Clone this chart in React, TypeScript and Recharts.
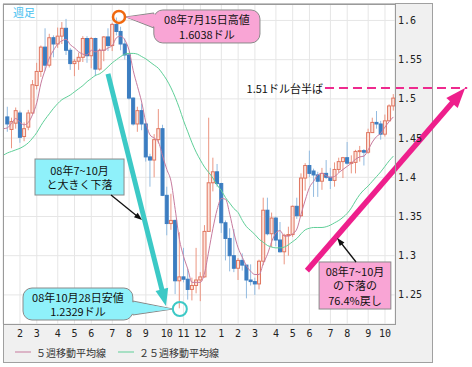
import React from "react";
import {
  ComposedChart,
  Bar,
  Line,
  XAxis,
  YAxis,
  CartesianGrid,
  ReferenceLine,
  ReferenceDot,
  ReferenceArea,
} from "recharts";

// weekly EUR/USD, week index 0 = week of 2008-01-07 (no candle drawn for it)
const opens = [null,
  1.477, 1.461, 1.469, 1.482, 1.452, 1.464, 1.482, 1.517, 1.535, 1.566,
  1.543, 1.578, 1.570, 1.580, 1.590, 1.562, 1.545, 1.548, 1.553, 1.577,
  1.555, 1.577, 1.538, 1.562, 1.579, 1.568, 1.595, 1.586, 1.570, 1.556,
  1.501, 1.468, 1.485, 1.468, 1.426, 1.422, 1.448, 1.462, 1.377, 1.341,
  1.345, 1.268, 1.273, 1.270, 1.257, 1.262, 1.269, 1.273, 1.331, 1.393,
  1.407, 1.392, 1.342, 1.322, 1.300, 1.284, 1.294, 1.288, 1.269, 1.267,
  1.264, 1.293, 1.358, 1.328, 1.348, 1.320, 1.305, 1.326, 1.327, 1.363,
  1.351, 1.399, 1.415, 1.408, 1.403, 1.395, 1.405, 1.400, 1.396, 1.410,
  1.420, 1.425, 1.418, 1.419, 1.433, 1.434, 1.432, 1.457, 1.470, 1.468,
  1.455, 1.472, 1.491];
const highs = [null,
  1.490, 1.476, 1.489, 1.485, 1.470, 1.486, 1.524, 1.546, 1.568, 1.590,
  1.583, 1.581, 1.591, 1.598, 1.602, 1.565, 1.551, 1.559, 1.580, 1.580,
  1.579, 1.578, 1.564, 1.580, 1.590, 1.597, 1.6038, 1.592, 1.577, 1.558,
  1.502, 1.490, 1.494, 1.470, 1.430, 1.455, 1.487, 1.467, 1.388, 1.379,
  1.346, 1.330, 1.310, 1.283, 1.272, 1.310, 1.279, 1.339, 1.476, 1.425,
  1.417, 1.393, 1.345, 1.335, 1.334, 1.297, 1.303, 1.288, 1.289, 1.272,
  1.295, 1.374, 1.374, 1.355, 1.350, 1.343, 1.328, 1.337, 1.364, 1.374,
  1.405, 1.418, 1.434, 1.411, 1.407, 1.412, 1.422, 1.412, 1.419, 1.425,
  1.426, 1.445, 1.428, 1.435, 1.440, 1.436, 1.462, 1.476, 1.4845, 1.472,
  1.480, 1.493, 1.5061];
const lows = [null,
  1.458, 1.437, 1.462, 1.444, 1.446, 1.460, 1.480, 1.512, 1.528, 1.536,
  1.540, 1.553, 1.565, 1.570, 1.556, 1.537, 1.529, 1.537, 1.547, 1.546,
  1.539, 1.529, 1.536, 1.548, 1.561, 1.561, 1.581, 1.562, 1.550, 1.499,
  1.466, 1.458, 1.460, 1.420, 1.388, 1.400, 1.443, 1.376, 1.326, 1.333,
  1.251, 1.2329, 1.266, 1.244, 1.243, 1.252, 1.242, 1.272, 1.331, 1.382,
  1.388, 1.329, 1.294, 1.280, 1.279, 1.269, 1.281, 1.2456, 1.262, 1.250,
  1.257, 1.288, 1.326, 1.311, 1.312, 1.304, 1.289, 1.300, 1.324, 1.347,
  1.350, 1.383, 1.400, 1.375, 1.375, 1.384, 1.398, 1.385, 1.388, 1.406,
  1.399, 1.416, 1.405, 1.405, 1.420, 1.415, 1.430, 1.457, 1.462, 1.448,
  1.452, 1.472, 1.485];
const closes = [null,
  1.468, 1.471, 1.485, 1.451, 1.462, 1.482, 1.518, 1.535, 1.566, 1.543,
  1.578, 1.570, 1.580, 1.590, 1.562, 1.545, 1.548, 1.553, 1.577, 1.555,
  1.577, 1.538, 1.562, 1.579, 1.568, 1.595, 1.586, 1.570, 1.556, 1.501,
  1.468, 1.485, 1.468, 1.426, 1.422, 1.448, 1.462, 1.377, 1.341, 1.345,
  1.268, 1.273, 1.270, 1.257, 1.262, 1.269, 1.273, 1.331, 1.393, 1.407,
  1.392, 1.342, 1.322, 1.300, 1.284, 1.294, 1.288, 1.269, 1.267, 1.264,
  1.293, 1.358, 1.328, 1.348, 1.320, 1.305, 1.326, 1.327, 1.363, 1.351,
  1.399, 1.415, 1.405, 1.403, 1.395, 1.405, 1.400, 1.396, 1.410, 1.420,
  1.425, 1.418, 1.419, 1.433, 1.434, 1.432, 1.457, 1.470, 1.468, 1.455,
  1.472, 1.491, 1.501];
const ma5 = [1.462,
  1.463, 1.469, 1.475, 1.470, 1.467, 1.470, 1.480, 1.495, 1.520, 1.537,
  1.552, 1.562, 1.570, 1.574, 1.576, 1.569, 1.565, 1.560, 1.557, 1.556,
  1.562, 1.560, 1.562, 1.562, 1.565, 1.568, 1.578, 1.580, 1.575, 1.562,
  1.536, 1.516, 1.496, 1.470, 1.454, 1.450, 1.445, 1.427, 1.410, 1.395,
  1.359, 1.321, 1.299, 1.283, 1.266, 1.266, 1.266, 1.278, 1.306, 1.335,
  1.359, 1.373, 1.372, 1.353, 1.329, 1.310, 1.298, 1.287, 1.280, 1.276,
  1.276, 1.290, 1.302, 1.318, 1.329, 1.332, 1.325, 1.325, 1.328, 1.334,
  1.353, 1.371, 1.387, 1.395, 1.403, 1.405, 1.402, 1.400, 1.401, 1.406,
  1.410, 1.414, 1.418, 1.423, 1.426, 1.427, 1.435, 1.445, 1.452, 1.456,
  1.464, 1.471, 1.477];
const ma25 = [1.428,
  1.431, 1.433, 1.435, 1.437, 1.440, 1.444, 1.450, 1.457, 1.466, 1.474,
  1.481, 1.488, 1.494, 1.499, 1.502, 1.505, 1.509, 1.513, 1.517, 1.522,
  1.526, 1.530, 1.532, 1.536, 1.541, 1.546, 1.550, 1.554, 1.557, 1.558,
  1.558, 1.557, 1.554, 1.551, 1.547, 1.543, 1.539, 1.532, 1.524, 1.514,
  1.502, 1.488, 1.472, 1.458, 1.444, 1.432, 1.422, 1.413, 1.406, 1.399,
  1.390, 1.383, 1.374, 1.367, 1.360, 1.355, 1.345, 1.337, 1.332, 1.327,
  1.321, 1.317, 1.313, 1.311, 1.310, 1.310, 1.311, 1.314, 1.318, 1.322,
  1.328, 1.333, 1.335, 1.336, 1.336, 1.336, 1.337, 1.339, 1.342, 1.345,
  1.349, 1.354, 1.361, 1.370, 1.378, 1.384, 1.389, 1.395, 1.401, 1.407,
  1.414, 1.421, 1.427];

const monthTickWeeks = [4, 8, 13, 17, 21, 26, 30, 34, 39, 43, 47, 52, 56, 60, 65, 69, 73, 78, 82, 87, 91];
const monthLabels = ["2", "3", "4", "5", "6", "7", "8", "9", "10", "11", "12", "1", "2", "3", "4", "5", "6", "7", "8", "9", "10"];
const priceTicks = [1.25, 1.3, 1.35, 1.4, 1.45, 1.5, 1.55, 1.6];

const highNote = ["08年7月15日高値", "1.6038ドル"];
const lowNote = ["08年10月28日安値", "1.2329ドル"];
const fallNote = ["08年7~10月", "と大きく下落"];
const retraceNote = ["08年7~10月", "の下落の", "76.4%戻し"];
const targetText = "1.51ドル台半ば";
const targetPrice = 1.514;

const data = opens.map((o, k) => ({
  k,
  open: o,
  high: highs[k],
  low: lows[k],
  close: closes[k],
  range: o == null ? null : [lows[k], highs[k]],
  ma5: ma5[k],
  ma25: ma25[k],
}));

const JP = "'Noto Sans CJK JP', sans-serif";
const MONO = "'DejaVu Sans Mono', monospace";

function Candle(props: any) {
  const { x, y, width, height, payload } = props;
  if (!payload || payload.open == null) return null;
  const { open, close, high, low } = payload;
  const top = Math.min(y, y + height);
  const h = Math.abs(height);
  const py = (v: number) => top + ((high - v) / (high - low)) * h;
  const cx = x + width / 2;
  const up = close >= open;
  const yO = py(open);
  const yC = py(close);
  const bTop = Math.min(yO, yC);
  const bH = Math.max(Math.abs(yO - yC), 1);
  return (
    <g>
      <line x1={cx} x2={cx} y1={top} y2={top + h} stroke={up ? "#eb9682" : "#93bbe0"} strokeWidth={1} />
      <rect
        x={cx - 1.5}
        y={bTop}
        width={3}
        height={bH}
        fill={up ? "#fde3db" : "#3b7dc1"}
        stroke={up ? "#e07660" : "#3b7dc1"}
        strokeWidth={1}
      />
    </g>
  );
}

// callout box drawn on a ReferenceArea; pointer is an offset from the box
const makeCallout = (lines: string[], fill: string, radius: number, pointer?: { side: "left" | "right"; b1: number; b2: number; tx: number; ty: number }) =>
  (props: any) => {
    const { x, y, width, height } = props;
    let poly = "";
    let inner = "";
    if (pointer) {
      const ex = pointer.side === "left" ? x : x + width;
      const tipX = pointer.side === "left" ? x + pointer.tx : x + width + pointer.tx;
      poly = `${ex},${y + pointer.b1} ${tipX},${y + pointer.ty} ${ex},${y + pointer.b2}`;
      const ix = pointer.side === "left" ? ex + 1.5 : ex - 1.5;
      inner = `${ix},${y + pointer.b1 + 1} ${tipX},${y + pointer.ty} ${ix},${y + pointer.b2 - 1}`;
    }
    const cy = y + height / 2;
    return (
      <g>
        {pointer && <polygon points={poly} fill={fill} stroke="#8a8a8a" strokeWidth={1} />}
        <rect x={x} y={y} width={width} height={height} rx={radius} ry={radius} fill={fill} stroke="#8a8a8a" strokeWidth={1} />
        {pointer && <polygon points={inner} fill={fill} stroke="none" />}
        {lines.map((t, j) => (
          <text
            key={j}
            x={x + width / 2}
            y={cy + (j - (lines.length - 1) / 2) * 14.5}
            textAnchor="middle"
            dominantBaseline="central"
            fontSize={11}
            fontFamily={JP}
            fill="#111"
          >
            {t}
          </text>
        ))}
      </g>
    );
  };

const makeArrow = (color: string, w: number, headLen: number, headW: number) => (props: any) => {
  const { x1, y1, x2, y2 } = props;
  const dx = x2 - x1;
  const dy = y2 - y1;
  const len = Math.hypot(dx, dy) || 1;
  const ux = dx / len;
  const uy = dy / len;
  const bx = x2 - ux * headLen;
  const by = y2 - uy * headLen;
  const px = -uy;
  const pyy = ux;
  return (
    <g>
      <line x1={x1} y1={y1} x2={bx + ux} y2={by + uy} stroke={color} strokeWidth={w} />
      <polygon
        points={`${x2},${y2} ${bx + (px * headW) / 2},${by + (pyy * headW) / 2} ${bx - (px * headW) / 2},${by - (pyy * headW) / 2}`}
        fill={color}
      />
    </g>
  );
};

function TargetLine(props: any) {
  const { x1, y1, x2, y2 } = props;
  return (
    <g>
      <text x={x1 - 2} y={y1} textAnchor="end" dominantBaseline="central" fontSize={11} fontFamily={JP} fill="#111">
        {targetText}
      </text>
      <line x1={x1} y1={y1} x2={x2} y2={y2} stroke="#ee2a8e" strokeWidth={2} strokeDasharray="9 5" />
    </g>
  );
}

export default function App() {
  return (
    <div style={{ position: "absolute", left: 0, top: 0, width: 472, height: 367, background: "#fff" }}>
      <div
        style={{
          position: "absolute",
          left: 3,
          top: 3,
          width: 430,
          height: 360,
          background: "#f0f0f0",
          border: "1px solid #a0a0a0",
          boxSizing: "border-box",
        }}
      />
      <div style={{ position: "absolute", left: 0, top: 0 }}>
        <ComposedChart width={472} height={367} data={data} margin={{ top: 4, right: 40, bottom: 23, left: 3 }}>
          <CartesianGrid stroke="#e6e6e6" fill="#ffffff" />
          <XAxis
            type="number"
            dataKey="k"
            domain={[-0.049, 93.39]}
            allowDataOverflow
            ticks={monthTickWeeks}
            interval={0}
            tickFormatter={(v: number) => monthLabels[monthTickWeeks.indexOf(v)]}
            tickLine={false}
            axisLine={false}
            tickSize={0}
            tickMargin={6}
            height={20}
            tick={{ fontSize: 10, fill: "#222", fontFamily: MONO }}
          />
          <YAxis
            orientation="right"
            domain={[1.2129, 1.621]}
            allowDataOverflow
            ticks={priceTicks}
            interval={0}
            tickFormatter={(v: number) => String(v)}
            tickLine={false}
            axisLine={false}
            tickSize={0}
            tickMargin={3}
            width={37}
            tick={{ fontSize: 10, fill: "#222", fontFamily: MONO }}
          />
          <Bar dataKey="range" barSize={4} shape={Candle} isAnimationActive={false} />
          <Line dataKey="ma5" type="monotone" stroke="#c77b9e" strokeWidth={1} dot={false} isAnimationActive={false} />
          <Line dataKey="ma25" type="monotone" stroke="#5fcf98" strokeWidth={1} dot={false} isAnimationActive={false} />

          <ReferenceLine
            segment={[{ x: 76.7, y: targetPrice }, { x: 110.6, y: targetPrice }]}
            ifOverflow="visible"
            shape={TargetLine}
          />
          <ReferenceLine
            segment={[{ x: 24.97, y: 1.532 }, { x: 38.8, y: 1.236 }]}
            ifOverflow="visible"
            shape={makeArrow("#3cc9c6", 5, 17, 13)}
          />
          <ReferenceLine
            segment={[{ x: 72.4, y: 1.281 }, { x: 110.1, y: 1.514 }]}
            ifOverflow="visible"
            shape={makeArrow("#ee1f8c", 5.5, 20, 15)}
          />
          <ReferenceLine
            segment={[{ x: 25.7, y: 1.3774 }, { x: 33.1, y: 1.3455 }]}
            ifOverflow="visible"
            shape={makeArrow("#111", 1.3, 8, 6)}
          />
          <ReferenceLine
            segment={[{ x: 84.1, y: 1.292 }, { x: 79.6, y: 1.3226 }]}
            ifOverflow="visible"
            shape={makeArrow("#111", 1.3, 8, 6)}
          />

          <ReferenceDot x={27.6} y={1.6045} r={6} fill="none" stroke="#f0680f" strokeWidth={2.5} ifOverflow="visible" />
          <ReferenceDot x={42.1} y={1.232} r={7} fill="none" stroke="#3cc9c6" strokeWidth={2} ifOverflow="visible" />

          <ReferenceArea
            x1={35.9}
            x2={61.2}
            y1={1.5713}
            y2={1.6134}
            ifOverflow="visible"
            shape={makeCallout(highNote, "#f9a5d5", 9, { side: "left", b1: 3, b2: 18, tx: -28, ty: 7 })}
          />
          <ReferenceArea x1={7.58} x2={28.8} y1={1.3774} y2={1.4233} ifOverflow="visible" shape={makeCallout(fallNote, "#8ff1fa", 0)} />
          <ReferenceArea
            x1={4.72}
            x2={30.9}
            y1={1.218}
            y2={1.2588}
            ifOverflow="visible"
            shape={makeCallout(lowNote, "#8ff1fa", 9, { side: "right", b1: 13, b2: 27, tx: 40, ty: 21 })}
          />
          <ReferenceArea x1={75.3} x2={92.4} y1={1.232} y2={1.292} ifOverflow="visible" shape={makeCallout(retraceNote, "#f9a5d5", 0)} />
        </ComposedChart>
      </div>
      <div
        style={{
          position: "absolute",
          left: 3,
          top: 4,
          width: 393,
          height: 321,
          border: "1px solid #9a9a9a",
          boxSizing: "border-box",
          pointerEvents: "none",
        }}
      />
      <div style={{ position: "absolute", left: 13, top: 4, fontSize: 11, fontFamily: JP, color: "#47bff0" }}>週足</div>
      <svg style={{ position: "absolute", left: 0, top: 340 }} width={300} height={24}>
        <line x1={15} x2={31} y1={12} y2={12} stroke="#c77b9e" strokeWidth={1} />
        <text x={36} y={12} dominantBaseline="central" fontSize={10} fontFamily={JP} fill="#333">
          ５週移動平均線
        </text>
        <line x1={118} x2={134} y1={12} y2={12} stroke="#5fcf98" strokeWidth={1} />
        <text x={139} y={12} dominantBaseline="central" fontSize={10} fontFamily={JP} fill="#333">
          ２５週移動平均線
        </text>
      </svg>
    </div>
  );
}
